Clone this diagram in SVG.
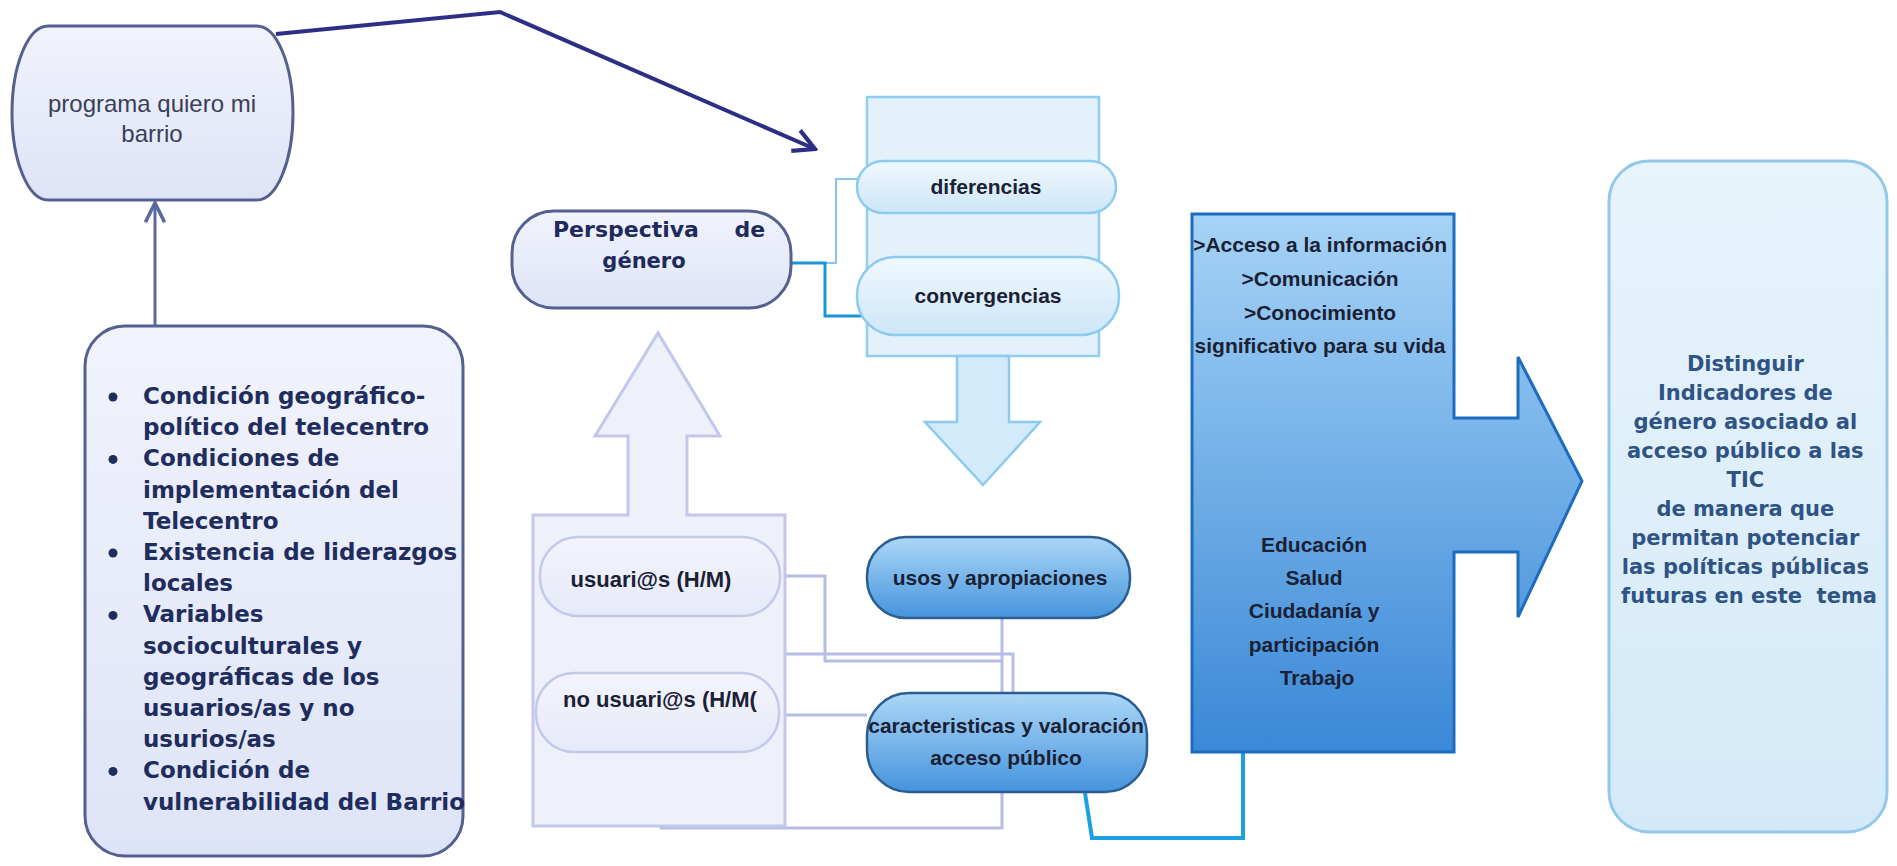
<svg xmlns="http://www.w3.org/2000/svg" width="1897" height="866" viewBox="0 0 1897 866">
<style>
.lav{fill:url(#gLav);stroke:#55608f;stroke-width:3}
.lb{fill:url(#gLB);stroke:#8ccaf0;stroke-width:2.5}
.pale{fill:url(#gPale);stroke:#c3c9eb;stroke-width:2.5}
.blue{fill:url(#gBlue);stroke:#2b5d90;stroke-width:2.5}
.thin{fill:none;stroke:#b7bee6;stroke-width:3}
.cal{font-family:"Liberation Sans",Arial,sans-serif;font-weight:bold;fill:#1b2134;text-anchor:middle}
.ver{font-family:"DejaVu Sans",Verdana,sans-serif;font-weight:bold}
</style>
<defs>
<linearGradient id="gLav" x1="0" y1="0" x2="0" y2="1"><stop offset="0" stop-color="#f1f3fc"/><stop offset="1" stop-color="#dee4f7"/></linearGradient>
<linearGradient id="gLB" x1="0" y1="0" x2="0" y2="1"><stop offset="0" stop-color="#f0f8fe"/><stop offset="1" stop-color="#cde6f8"/></linearGradient>
<linearGradient id="gPale" x1="0" y1="0" x2="0" y2="1"><stop offset="0" stop-color="#f3f4fc"/><stop offset="1" stop-color="#e6e9f8"/></linearGradient>
<linearGradient id="gBlue" x1="0" y1="0" x2="0" y2="1"><stop offset="0" stop-color="#acd7f7"/><stop offset="1" stop-color="#4594dd"/></linearGradient>
<linearGradient id="gBig" x1="0" y1="0" x2="0" y2="1"><stop offset="0" stop-color="#a6d3f6"/><stop offset="1" stop-color="#3a88d7"/></linearGradient>
<linearGradient id="gRight" x1="0" y1="0" x2="0" y2="1"><stop offset="0" stop-color="#e8f4fc"/><stop offset="1" stop-color="#d4e9f8"/></linearGradient>
<marker id="arrNavy" viewBox="0 0 20 20" refX="18" refY="10" markerWidth="28" markerHeight="28" markerUnits="userSpaceOnUse" orient="auto"><path d="M3,2 L18,10 L3,18" fill="none" stroke="#2d2f86" stroke-width="3"/></marker>
<marker id="arrSlate" viewBox="0 0 20 20" refX="18" refY="10" markerWidth="24" markerHeight="24" markerUnits="userSpaceOnUse" orient="auto"><path d="M2,2 L18,10 L2,18" fill="none" stroke="#5a6a9c" stroke-width="3"/></marker>
</defs>
<rect width="1897" height="866" fill="#ffffff"/>

<g id="connectors">
<polyline points="276,34 500,12 815,149" fill="none" stroke="#2d2f86" stroke-width="4" marker-end="url(#arrNavy)"/>
<line x1="155" y1="326" x2="155" y2="203" stroke="#5a6a9c" stroke-width="3" marker-end="url(#arrSlate)"/>
<polyline points="825,263 836,263 836,179 878,179" fill="none" stroke="#86c5ee" stroke-width="2"/>
<polyline points="790,263 825,263 825,316 867,316" fill="none" stroke="#1b95d6" stroke-width="3"/>
<polyline class="thin" points="667,615 667,654 1013,654 1013,693"/>
<polyline class="thin" points="780,576 825,576 825,661 1002,661"/>
<line class="thin" x1="1002" y1="618" x2="1002" y2="693"/>
<line class="thin" x1="779" y1="715" x2="867" y2="715"/>
<polyline class="thin" points="1002,792 1002,828 661,828 661,752"/>
<polyline points="1085,793 1092,838 1243,838 1243,752" fill="none" stroke="#1ba1e2" stroke-width="4"/>
</g>

<g id="programa">
<rect x="12" y="26" width="281" height="174" rx="36" ry="87" class="lav" stroke="#4d5b8c"/>
<text x="152" y="112" font-family="'Liberation Sans',Arial,sans-serif" font-size="24" fill="#3a3f58" text-anchor="middle">programa quiero mi</text>
<text x="152" y="142" font-family="'Liberation Sans',Arial,sans-serif" font-size="24" fill="#3a3f58" text-anchor="middle">barrio</text>
</g>

<g id="condiciones">
<rect x="85" y="326" width="378" height="530" rx="40" class="lav"/>
<g fill="#1f2d5e">
<circle cx="113" cy="397" r="4.5"/><circle cx="113" cy="459.4" r="4.5"/><circle cx="113" cy="553" r="4.5"/><circle cx="113" cy="615.4" r="4.5"/><circle cx="113" cy="771.4" r="4.5"/>
</g>
<text class="ver" font-size="23" fill="#1f2d5e" x="143">
<tspan x="143" y="404">Condición geográfico-</tspan>
<tspan x="143" y="435.2">político del telecentro</tspan>
<tspan x="143" y="466.4">Condiciones de</tspan>
<tspan x="143" y="497.6">implementación del</tspan>
<tspan x="143" y="528.8">Telecentro</tspan>
<tspan x="143" y="560">Existencia de liderazgos</tspan>
<tspan x="143" y="591.2">locales</tspan>
<tspan x="143" y="622.4">Variables</tspan>
<tspan x="143" y="653.6">socioculturales y</tspan>
<tspan x="143" y="684.8">geográficas de los</tspan>
<tspan x="143" y="716">usuarios/as y no</tspan>
<tspan x="143" y="747.2">usurios/as</tspan>
<tspan x="143" y="778.4">Condición de</tspan>
<tspan x="143" y="809.6">vulnerabilidad del Barrio</tspan>
</text>
</g>

<g id="perspectiva">
<rect x="512" y="211" width="279" height="97" rx="42" class="lav"/>
<text class="ver" font-size="22" fill="#1f2a5c" word-spacing="28" x="553" y="237">Perspectiva de</text>
<text class="ver" font-size="21" fill="#1f2a5c" text-anchor="middle" x="644" y="268">género</text>
</g>

<g id="columna">
<rect x="867" y="97" width="232" height="259" fill="#e3f1fb" stroke="#90cdf2" stroke-width="2.5"/>
<path d="M957,356 L1009,356 L1009,422 L1040,422 L983,485 L925,422 L957,422 Z" fill="#d3eafa" stroke="#8ccaf0" stroke-width="2.5"/>
</g>

<g id="diferencias">
<rect x="857" y="161" width="259" height="52" rx="26" class="lb"/>
<text class="cal" font-size="21" x="986" y="194">diferencias</text>
</g>

<g id="convergencias">
<rect x="857" y="257" width="262" height="78" rx="38" class="lb"/>
<text class="cal" font-size="21" x="988" y="303">convergencias</text>
</g>

<g id="usuarios-grupo">
<path d="M533,515 L628,515 L628,436 L595,436 L658,333 L720,436 L687,436 L687,515 L785,515 L785,826 L533,826 Z" fill="#eef0fa" stroke="#c3c8ea" stroke-width="3"/>
</g>

<g id="usuarios">
<rect x="540" y="537" width="240" height="79" rx="38" class="pale"/>
<text class="cal" font-size="22" x="651" y="587">usuari@s (H/M)</text>
</g>

<g id="no-usuarios">
<rect x="536" y="673" width="243" height="79" rx="38" class="pale"/>
<text class="cal" font-size="22" x="660" y="707">no usuari@s (H/M(</text>
</g>

<g id="usos">
<rect x="867" y="537" width="263" height="81" rx="39" class="blue"/>
<text class="cal" font-size="21" x="1000" y="585">usos y apropiaciones</text>
</g>

<g id="caracteristicas">
<rect x="867" y="693" width="280" height="99" rx="42" class="blue"/>
<text class="cal" font-size="21" x="1006" y="733">caracteristicas y valoración</text>
<text class="cal" font-size="21" x="1006" y="765">acceso público</text>
</g>

<g id="acceso">
<path d="M1192,214 L1454,214 L1454,418 L1518,418 L1518,357 L1582,481 L1518,617 L1518,552 L1454,552 L1454,752 L1192,752 Z" fill="url(#gBig)" stroke="#1c6cc0" stroke-width="3"/>
<text class="cal" font-size="21" fill="#1a2338">
<tspan x="1323" y="252">&gt;Acceso a la información</tspan>
<tspan x="1323" y="286">&gt;Comunicación</tspan>
<tspan x="1323" y="320">&gt;Conocimiento</tspan>
<tspan x="1323" y="353">significativo para su vida</tspan>
<tspan x="1317" y="552">Educación</tspan>
<tspan x="1317" y="585">Salud</tspan>
<tspan x="1317" y="618">Ciudadanía y</tspan>
<tspan x="1317" y="652">participación</tspan>
<tspan x="1317" y="685">Trabajo</tspan>
</text>
</g>

<g id="distinguir">
<rect x="1609" y="161" width="278" height="671" rx="40" fill="url(#gRight)" stroke="#93c8ea" stroke-width="3"/>
<text class="ver" font-size="21" fill="#2f5385" text-anchor="middle">
<tspan x="1749" y="371">Distinguir</tspan>
<tspan x="1749" y="400">Indicadores de</tspan>
<tspan x="1749" y="429">género asociado al</tspan>
<tspan x="1749" y="458">acceso público a las</tspan>
<tspan x="1749" y="487">TIC</tspan>
<tspan x="1749" y="516">de manera que</tspan>
<tspan x="1749" y="545">permitan potenciar</tspan>
<tspan x="1749" y="574">las políticas públicas</tspan>
<tspan x="1749" y="603" xml:space="preserve">futuras en este  tema</tspan>
</text>
</g>
</svg>
